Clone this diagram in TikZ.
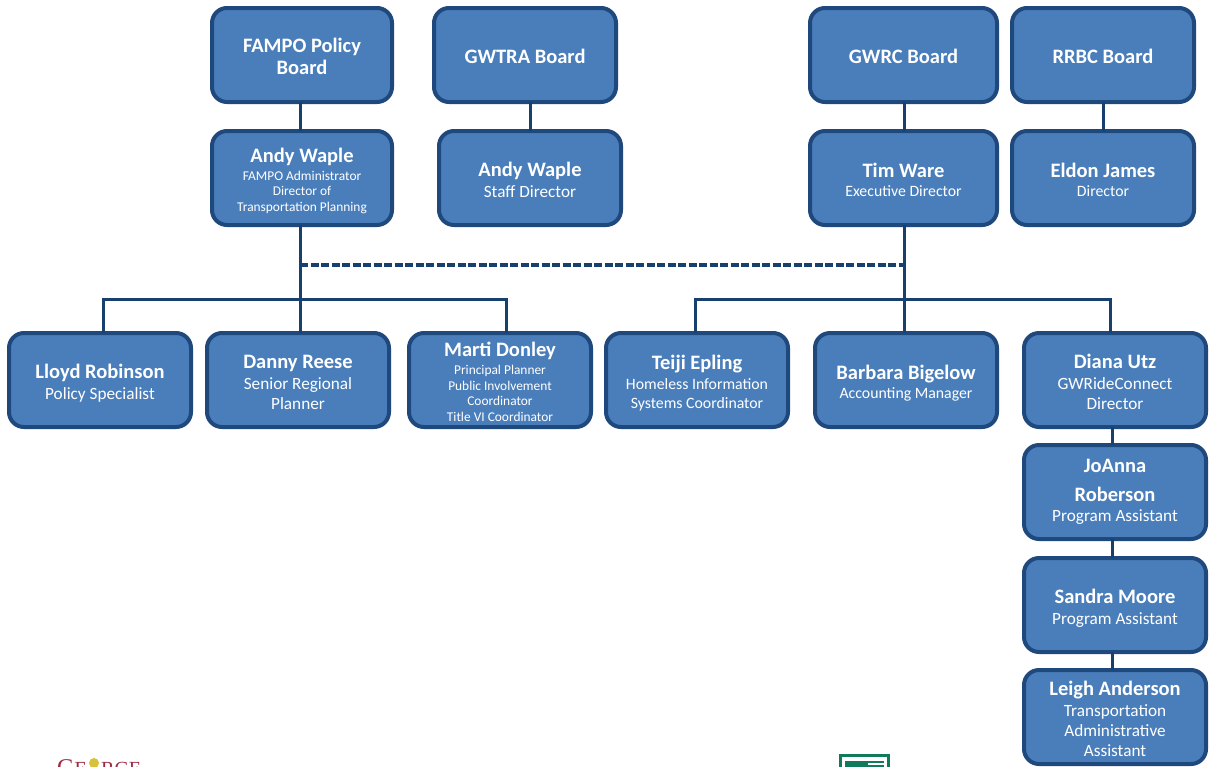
\documentclass[tikz,border=0pt]{standalone}
\usepackage{fontspec}
\setmainfont{Carlito}
\newfontfamily\logoserif{Liberation Serif}
\definecolor{boxfill}{HTML}{4A7EBB}
\definecolor{boxline}{HTML}{1F497D}
\definecolor{linecol}{HTML}{17406F}
\definecolor{logogreen}{HTML}{0F7B5A}
\definecolor{logored}{HTML}{9C2A44}
\definecolor{logoyellow}{HTML}{D8C23A}
\newcommand{\nm}[1]{{\fontsize{20.5}{1}\selectfont\bfseries\vrule width 0pt height 15pt depth 6pt\relax #1}}
\newcommand{\nf}[1]{{\fontsize{20.5}{1}\selectfont\bfseries\vrule width 0pt height 23pt depth 6pt\relax #1}}
\newcommand{\rl}[1]{{\fontsize{17.2}{1}\selectfont\vrule width 0pt height 13.5pt depth 5.5pt\relax #1}}
\newcommand{\rs}[1]{{\fontsize{15.8}{1}\selectfont\vrule width 0pt height 12.5pt depth 5.5pt\relax #1}}
\newcommand{\sm}[1]{{\fontsize{13.4}{1}\selectfont\vrule width 0pt height 10.3pt depth 4.5pt\relax #1}}
\tikzset{
 x=1pt,y=-1pt,
 org/.style={draw=boxline,fill=boxfill,line width=4pt,rounded corners=15pt,text=white,align=center,inner sep=0pt,anchor=north west,
   font=\fontsize{10}{1}\selectfont},
 wire/.style={draw=linecol,line width=3pt},
 logotext/.style={anchor=base west,text=logored,inner sep=0pt},
}
\newcommand{\orgbox}[6]{% name, x0,y0,x1,y1, text
 \pgfmathsetmacro{\bw}{#4-#2}\pgfmathsetmacro{\bh}{#5-#3}
 \node[org,minimum width=\bw pt,minimum height=\bh pt,outer sep=0pt] (#1) at (#2,#3) {#6};
}
\begin{document}
\begin{tikzpicture}
\useasboundingbox (0,0) rectangle (1209,766);
\fill[white] (0,0) rectangle (1209,766);
\orgbox{fampo}{212}{8}{392}{102}{\nf{FAMPO Policy}\\\nm{Board}}
\orgbox{gwtra}{434}{8}{616}{102}{\nf{GWTRA Board}}
\orgbox{gwrc}{810}{8}{997}{102}{\nf{GWRC Board}}
\orgbox{rrbc}{1012}{8}{1194}{102}{\nf{RRBC Board}}
\orgbox{andy}{212}{131}{392}{225}{\nf{Andy Waple}\\\sm{FAMPO Administrator}\\\sm{Director of}\\\sm{Transportation Planning}}
\orgbox{andyb}{439}{131}{621}{225}{\nf{Andy Waple}\\\rl{Staff Director}}
\orgbox{tim}{810}{131}{997}{225}{\nf{Tim Ware}\\\rs{Executive Director}}
\orgbox{eldon}{1012}{131}{1194}{225}{\nf{Eldon James}\\\rs{Director}}
\orgbox{lloyd}{9}{333}{191}{427}{\nf{Lloyd Robinson}\\\rl{Policy Specialist}}
\orgbox{danny}{207}{333}{389}{427}{\nf{Danny Reese}\\\rl{Senior Regional}\\\rl{Planner}}
\orgbox{marti}{409}{333}{591}{427}{\nf{Marti Donley}\\\sm{Principal Planner}\\\sm{Public Involvement}\\\sm{Coordinator}\\\sm{Title VI Coordinator}}
\orgbox{teiji}{606}{333}{788}{427}{\nf{Teiji Epling}\\\rs{Homeless Information}\\\rs{Systems Coordinator}}
\orgbox{barbara}{815}{333}{997}{427}{\nf{Barbara Bigelow}\\\rs{Accounting Manager}}
\orgbox{diana}{1024}{333}{1206}{427}{\nf{Diana Utz}\\\rl{GWRideConnect}\\\rl{Director}}
\orgbox{joanna}{1024}{445}{1206}{539}{\nm{JoAnna}\\[7pt]\nm{Roberson}\\\rl{Program Assistant}}
\orgbox{sandra}{1024}{558}{1206}{652}{\nf{Sandra Moore}\\\rl{Program Assistant}}
\orgbox{leigh}{1024}{670}{1206}{764}{\nf{Leigh Anderson}\\\rl{Transportation}\\\rl{Administrative}\\\rl{Assistant}}
\coordinate (dashL) at (300,265);
\coordinate (dashR) at (904,265);
\coordinate (lloydT) at (103,299);
\coordinate (martiT) at (506,299);
\coordinate (teijiT) at (695,299);
\coordinate (dianaT) at (1110,299);
\coordinate (dianaB) at (1112,432);
\path[wire] (dashL |- fampo.south) -- (dashL |- andy.north);
\path[wire] (gwtra.south -| andyb.north) -- (andyb.north);
\path[wire] (dashR |- gwrc.south) -- (dashR |- tim.north);
\path[wire] (rrbc.south -| eldon.north) -- (eldon.north);
\path[wire] (dashL |- andy.south) -- (dashL |- danny.north);
\path[wire] (lloydT |- lloyd.north) -- (lloydT) -- (martiT) -- (martiT |- marti.north);
\path[wire] (dashR |- tim.south) -- (dashR |- barbara.north);
\path[wire] (teijiT |- teiji.north) -- (teijiT) -- (dianaT) -- (dianaT |- diana.north);
\path[wire] (dianaB |- diana.south) -- (dianaB |- joanna.north);
\path[wire] (dianaB |- joanna.south) -- (dianaB |- sandra.north);
\path[wire] (dianaB |- sandra.south) -- (dianaB |- leigh.north);
\draw[linecol,line width=4pt,dash pattern=on 8pt off 2.5pt] (dashL) -- (dashR);
\begin{scope}
\clip (0,0) rectangle (1209,766);
\node[logotext,font=\logoserif\fontsize{24}{24}\selectfont] (george) at (57,775) {G{\fontsize{20}{20}\selectfont E}};
\fill[logoyellow] (94,763) circle (5);
\node[logotext,font=\logoserif\fontsize{20}{20}\selectfont] (georgeb) at (101,775) {RGE};
\draw[draw=logogreen,fill=white,line width=3pt] (840,755) rectangle (888,780);
\fill[logogreen] (845,761) rectangle (884,780);
\fill[white] (868,763) rectangle (884,765);
\end{scope}
\end{tikzpicture}
\end{document}
